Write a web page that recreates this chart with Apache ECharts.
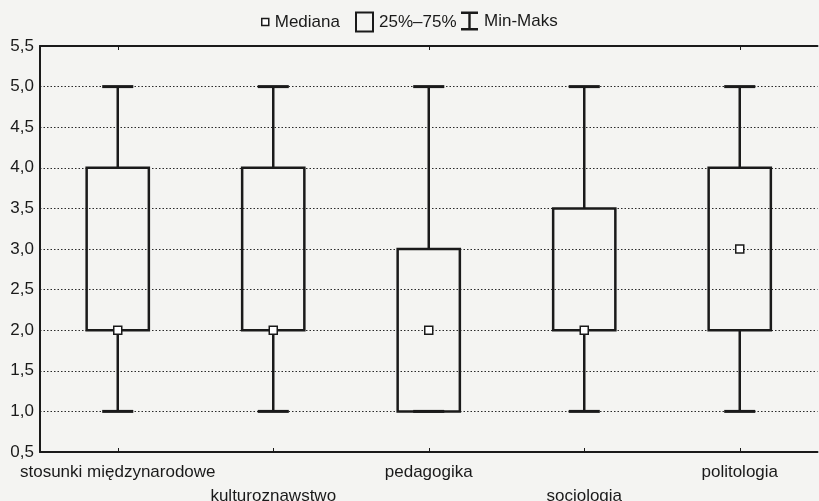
<!DOCTYPE html>
<html>
<head>
<meta charset="utf-8">
<script src="https://cdn.jsdelivr.net/npm/echarts@6/dist/echarts.min.js"></script>
<style>
html,body{margin:0;padding:0;background:#f4f4f2;}
#c{width:819px;height:501px;}
</style>
</head>
<body>
<div id="c"></div>
<script>
const categories = ['stosunki międzynarodowe', 'kulturoznawstwo', 'pedagogika', 'socjologia', 'politologia'];
const minVals = [1, 1, 1, 1, 1];
const q1Vals = [2, 2, 1, 2, 2];
const medianVals = [2, 2, 2, 2, 3];
const q3Vals = [4, 4, 3, 3.5, 4];
const maxVals = [5, 5, 5, 5, 5];
const yMin = 0.5, yMax = 5.5, yStep = 0.5;
const legendNames = ['Mediana', '25%–75%', 'Min-Maks'];

const INK = '#1a1a1a';
const FONT = 'Liberation Sans';

const chart = echarts.init(document.getElementById('c'));

const boxData = categories.map((c, i) => [i, q1Vals[i], q3Vals[i]]);
const whiskerData = categories.map((c, i) => [i, minVals[i], q1Vals[i], q3Vals[i], maxVals[i]]);
const medianData = categories.map((c, i) => [i, medianVals[i]]);

function renderBox(params, api) {
  const x = api.value(0);
  const lo = api.coord([x, api.value(1)]);
  const hi = api.coord([x, api.value(2)]);
  const bw = api.size([1, 0])[0] * 0.4;
  return {
    type: 'rect',
    shape: { x: lo[0] - bw / 2, y: hi[1], width: bw, height: lo[1] - hi[1] },
    style: { fill: 'none', stroke: INK, lineWidth: 2.5 }
  };
}

function renderWhisker(params, api) {
  const x = api.value(0);
  const pMin = api.coord([x, api.value(1)]);
  const pQ1 = api.coord([x, api.value(2)]);
  const pQ3 = api.coord([x, api.value(3)]);
  const pMax = api.coord([x, api.value(4)]);
  const cw = api.size([1, 0])[0] * 0.2;
  const st = { stroke: INK, lineWidth: 2.5 };
  const cap = { stroke: INK, lineWidth: 3 };
  return {
    type: 'group',
    children: [
      { type: 'line', shape: { x1: pMax[0], y1: pMax[1], x2: pQ3[0], y2: pQ3[1] }, style: st },
      { type: 'line', shape: { x1: pQ1[0], y1: pQ1[1], x2: pMin[0], y2: pMin[1] }, style: st },
      { type: 'line', shape: { x1: pMax[0] - cw / 2, y1: pMax[1], x2: pMax[0] + cw / 2, y2: pMax[1] }, style: cap },
      { type: 'line', shape: { x1: pMin[0] - cw / 2, y1: pMin[1], x2: pMin[0] + cw / 2, y2: pMin[1] }, style: cap }
    ]
  };
}

const legendText = { fontSize: 17, color: INK, fontFamily: FONT, padding: [0, 0, 0, 1] };

chart.setOption({
  backgroundColor: '#f4f4f2',
  animation: false,
  textStyle: { fontFamily: FONT },
  legend: [
    {
      left: 261, top: 13.5, padding: 0, selectedMode: false,
      itemWidth: 7, itemHeight: 7, textStyle: legendText,
      data: [{ name: legendNames[0], icon: 'rect', itemStyle: { color: '#fff', borderColor: INK, borderWidth: 1.5 } }]
    },
    {
      left: 355, top: 11.5, padding: 0, selectedMode: false,
      itemWidth: 17, itemHeight: 19, textStyle: legendText,
      data: [{ name: legendNames[1], icon: 'rect', itemStyle: { color: 'transparent', borderColor: INK, borderWidth: 2 } }]
    },
    {
      left: 461, top: 11.5, padding: 0, selectedMode: false,
      itemWidth: 17, itemHeight: 19, textStyle: legendText,
      data: [{ name: legendNames[2], icon: 'path://M0,0H17V2.4H9.7V16.6H17V19H0V16.6H7.3V2.4H0Z', itemStyle: { color: INK, borderWidth: 0 } }]
    }
  ],
  grid: { left: 40, right: 1.5, top: 46, bottom: 49, containLabel: false, outerBoundsMode: 'none' },
  xAxis: [
    {
      type: 'category',
      data: categories,
      position: 'bottom',
      axisLine: { show: true, lineStyle: { color: INK, width: 2 } },
      axisTick: { show: true, inside: true, alignWithLabel: true, length: 4, lineStyle: { color: INK, width: 1 } },
      axisLabel: {
        interval: 0,
        color: INK,
        fontSize: 17,
        fontFamily: FONT,
        lineHeight: 24,
        margin: 8,
        formatter: (v, i) => (i % 2 === 1 ? '\n' + v : v)
      },
      splitLine: { show: false }
    },
    {
      type: 'category',
      data: categories,
      position: 'top',
      axisLine: { show: true, lineStyle: { color: INK, width: 2 } },
      axisTick: { show: true, inside: true, alignWithLabel: true, length: 4, lineStyle: { color: INK, width: 1 } },
      axisLabel: { show: false },
      splitLine: { show: false }
    }
  ],
  yAxis: {
    type: 'value',
    min: yMin,
    max: yMax,
    interval: yStep,
    axisLine: { show: true, lineStyle: { color: INK, width: 2 } },
    axisTick: { show: false },
    axisLabel: {
      color: INK,
      fontSize: 17,
      fontFamily: FONT,
      margin: 6,
      formatter: v => v.toFixed(1).replace('.', ',')
    },
    splitLine: { show: true, lineStyle: { color: '#2a2a2a', width: 1.2, type: [1.5, 2] } }
  },
  series: [
    {
      name: legendNames[2],
      type: 'custom',
      renderItem: renderWhisker,
      data: whiskerData,
      encode: { x: 0, y: [1, 2, 3, 4] },
      z: 3
    },
    {
      name: legendNames[1],
      type: 'custom',
      renderItem: renderBox,
      data: boxData,
      encode: { x: 0, y: [1, 2] },
      z: 4
    },
    {
      name: legendNames[0],
      type: 'scatter',
      data: medianData,
      symbol: 'rect',
      symbolSize: 8,
      itemStyle: { color: '#fff', borderColor: INK, borderWidth: 1.5, opacity: 1 },
      z: 10
    }
  ]
});
</script>
</body>
</html>
